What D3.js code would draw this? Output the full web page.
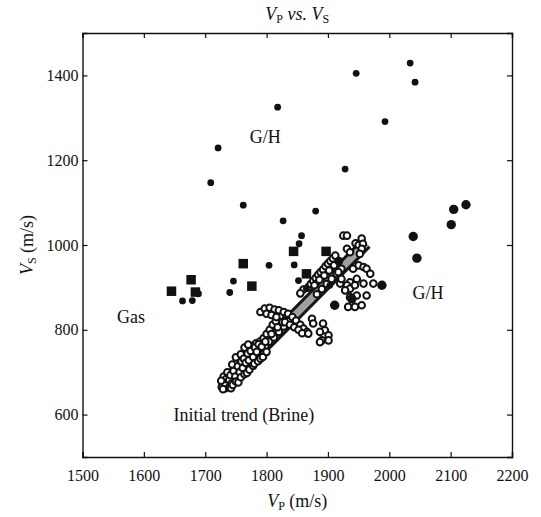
<!DOCTYPE html>
<html>
<head>
<meta charset="utf-8">
<script src="https://cdnjs.cloudflare.com/ajax/libs/d3/7.8.5/d3.min.js"></script>
<style>
  body { margin: 0; background: #fff; }
  text { font-family: 'Liberation Serif', 'DejaVu Serif', serif; fill: #111; }
</style>
</head>
<body>
<div id="chart"></div>
<script>
// tick values
var xTicks = [1500, 1600, 1700, 1800, 1900, 2000, 2100, 2200];
var yTicks = [600, 800, 1000, 1200, 1400];

// G/H : small filled dots [Vp, Vs]
var ghSmall = [
  [2034, 1429], [1946, 1405], [2042, 1384], [1818, 1325], [1993, 1291],
  [1721, 1229], [1928, 1179], [1709, 1147], [1762, 1094], [1880, 1080],
  [1827, 1057], [1857, 1022], [1853, 1003], [1845, 953], [1852, 916],
  [1804, 952], [1746, 915], [1740, 888], [1689, 885], [1663, 868], [1679, 869],
  [1917, 960], [1903, 905], [1865, 897]
];
// G/H : large filled dots
var ghLarge = [
  [2125, 1095], [2105, 1084], [2101, 1048], [2039, 1020], [2045, 969],
  [1988, 905], [1939, 873], [1911, 858]
];
// Gas : filled squares
var gasSquares = [
  [1645, 891], [1677, 918], [1684, 889], [1762, 956], [1776, 903],
  [1844, 985], [1897, 985], [1865, 932]
];
// Brine : open circles
var brineCircles = [
  // lower trend cluster
  [1728, 672], [1732, 680], [1735, 668], [1738, 690], [1740, 676], [1742, 700],
  [1745, 685], [1747, 712], [1750, 695], [1752, 722], [1755, 705], [1757, 730],
  [1760, 715], [1762, 740], [1765, 725], [1767, 748], [1770, 735], [1772, 755],
  [1775, 742], [1777, 762], [1780, 750], [1783, 768], [1786, 758], [1789, 772],
  [1730, 690], [1736, 700], [1744, 718], [1750, 735], [1758, 742], [1764, 758],
  [1770, 765], [1748, 680], [1756, 692], [1762, 702], [1768, 712], [1776, 728],
  [1782, 738], [1790, 748], [1733, 662], [1740, 667],
  [1745, 684], [1752, 695], [1766, 716], [1774, 728], [1782, 740], [1790, 752],
  [1798, 762], [1755, 688], [1765, 700], [1775, 714], [1785, 728], [1795, 742],
  [1727, 665], [1731, 674], [1734, 684], [1739, 682], [1741, 693], [1743, 673],
  [1746, 703], [1749, 690], [1753, 714], [1756, 700], [1759, 725], [1761, 710],
  [1763, 732], [1766, 722], [1769, 744], [1771, 728], [1774, 750], [1778, 736],
  [1781, 758], [1784, 748], [1787, 766], [1792, 760], [1726, 680], [1729, 660],
  // lower cluster, right side of band
  [1742, 662], [1745, 670], [1750, 678], [1754, 676], [1758, 688], [1764, 695],
  [1768, 698], [1772, 706], [1778, 715], [1780, 720], [1786, 726], [1790, 732],
  [1794, 736], [1800, 748],
  // middle of trend
  [1795, 780], [1800, 790], [1805, 800], [1810, 812], [1815, 820], [1822, 832],
  [1804, 772], [1812, 782], [1820, 795], [1828, 808], [1836, 820],
  [1798, 772], [1808, 790], [1818, 806], [1826, 818],
  [1860, 895], [1855, 886],
  // cross-wise spread
  [1790, 842], [1797, 850], [1805, 852], [1813, 848], [1820, 846], [1828, 842],
  [1835, 838], [1842, 830], [1848, 822], [1855, 812], [1860, 803], [1866, 795],
  [1800, 838], [1808, 835], [1816, 830], [1830, 818], [1838, 812], [1845, 806],
  [1852, 800], [1858, 792],
  // small cluster right of trend
  [1874, 826], [1876, 815], [1868, 791], [1892, 815], [1895, 799], [1887, 795],
  [1901, 787], [1890, 775], [1901, 775], [1887, 771],
  // upper trend
  [1868, 900], [1872, 908], [1876, 915], [1880, 922], [1884, 930], [1888, 936],
  [1892, 942], [1896, 950], [1900, 956], [1904, 962], [1908, 968], [1912, 975],
  [1878, 905], [1886, 918], [1894, 928], [1902, 940], [1910, 952], [1918, 962],
  [1882, 884], [1890, 896], [1898, 908], [1906, 920], [1914, 932], [1922, 944],
  [1945, 1004], [1950, 1000],
  // upper right cloud
  [1925, 1022], [1931, 1022], [1955, 1015], [1957, 1003], [1955, 991], [1952, 979],
  [1931, 991], [1936, 983], [1941, 944], [1950, 952], [1958, 948], [1963, 944],
  [1969, 932], [1947, 920], [1936, 912], [1931, 905], [1936, 897], [1944, 905],
  [1958, 909], [1974, 909], [1928, 893], [1936, 877], [1947, 881], [1963, 881],
  [1933, 854], [1944, 854], [1955, 858], [1920, 909], [1922, 920], [1917, 936]
];
// initial brine trend (end points)
var trendLine = [[1738, 676], [1962, 1004]];

var W = 541, H = 517;
var margin = {top: 33, right: 29, bottom: 60, left: 82.5};

var svg = d3.select("#chart").append("svg")
    .attr("width", W)
    .attr("height", H);

var x = d3.scaleLinear().domain([1500, 2200]).range([margin.left, W - margin.right]);
var y = d3.scaleLinear().domain([500, 1500]).range([H - margin.bottom, margin.top]);

// axes, ticks pointing inward
var tick = 5;
svg.append("g")
    .attr("transform", "translate(0," + y(500) + ")")
    .call(d3.axisBottom(x).tickValues(xTicks).tickSize(-tick).tickPadding(13).tickFormat(d3.format("d")));
svg.append("g")
    .attr("transform", "translate(0," + y(1500) + ")")
    .call(d3.axisTop(x).tickValues(xTicks).tickSize(-tick).tickFormat(""));
svg.append("g")
    .attr("transform", "translate(" + x(1500) + ",0)")
    .call(d3.axisLeft(y).tickValues(yTicks).tickSize(-tick).tickPadding(4).tickFormat(d3.format("d")));
svg.append("g")
    .attr("transform", "translate(" + x(2200) + ",0)")
    .call(d3.axisRight(y).tickValues(yTicks).tickSize(-tick).tickFormat(""));

svg.selectAll(".domain").attr("stroke", "#111").attr("stroke-width", 1.4);
svg.selectAll(".tick line").attr("stroke", "#111").attr("stroke-width", 1.2);
svg.selectAll(".tick text").style("font-family", "'Liberation Serif', serif").style("font-size", "16px").attr("fill", "#111");

// trend band
var line = d3.line().x(function (d) { return x(d[0]); }).y(function (d) { return y(d[1]); });
svg.append("path").datum(trendLine).attr("d", line)
    .attr("stroke", "#161616").attr("stroke-width", 13).attr("fill", "none");
svg.append("path").datum(trendLine).attr("d", line)
    .attr("stroke", "#a0a0a0").attr("stroke-width", 7).attr("fill", "none");

// open circles
svg.append("g").selectAll("circle")
    .data(brineCircles)
    .enter().append("circle")
    .attr("cx", function (d) { return x(d[0]); })
    .attr("cy", function (d) { return y(d[1]); })
    .attr("r", 3.3)
    .attr("fill", "#fff")
    .attr("stroke", "#111")
    .attr("stroke-width", 2);

// gas squares
var sq = 9.5;
svg.append("g").selectAll("rect")
    .data(gasSquares)
    .enter().append("rect")
    .attr("x", function (d) { return x(d[0]) - sq / 2; })
    .attr("y", function (d) { return y(d[1]) - sq / 2; })
    .attr("width", sq).attr("height", sq)
    .attr("fill", "#111");

// filled dots
svg.append("g").selectAll("circle")
    .data(ghSmall)
    .enter().append("circle")
    .attr("cx", function (d) { return x(d[0]); })
    .attr("cy", function (d) { return y(d[1]); })
    .attr("r", 3.4)
    .attr("fill", "#111");
svg.append("g").selectAll("circle")
    .data(ghLarge)
    .enter().append("circle")
    .attr("cx", function (d) { return x(d[0]); })
    .attr("cy", function (d) { return y(d[1]); })
    .attr("r", 4.7)
    .attr("fill", "#111");

// annotations
function note(txt, vx, vy) {
  svg.append("text").attr("x", x(vx)).attr("y", y(vy))
    .attr("text-anchor", "middle").style("font-size", "18px").text(txt);
}
note("G/H", 1798, 1240);
note("G/H", 2063, 872);
note("Gas", 1579, 815);
note("Initial trend (Brine)", 1763, 585);

// title
var t = svg.append("text").attr("x", (x(1500) + x(2200)) / 2).attr("y", 20)
    .attr("text-anchor", "middle").style("font-size", "18px");
t.append("tspan").style("font-style", "italic").text("V");
t.append("tspan").attr("dy", 3).style("font-size", "12px").text("P");
t.append("tspan").attr("dy", -3).style("font-style", "italic").text(" vs. V");
t.append("tspan").attr("dy", 3).style("font-size", "12px").text("S");

// x label
var xl = svg.append("text").attr("x", (x(1500) + x(2200)) / 2).attr("y", 507)
    .attr("text-anchor", "middle").style("font-size", "18px");
xl.append("tspan").style("font-style", "italic").text("V");
xl.append("tspan").attr("dy", 3).style("font-size", "12px").text("P");
xl.append("tspan").attr("dy", -3).text(" (m/s)");

// y label
var yl = svg.append("text")
    .attr("transform", "translate(33," + (y(1000)) + ") rotate(-90)")
    .attr("text-anchor", "middle").style("font-size", "18px");
yl.append("tspan").style("font-style", "italic").text("V");
yl.append("tspan").attr("dy", 3).style("font-size", "12px").text("S");
yl.append("tspan").attr("dy", -3).text(" (m/s)");
</script>
</body>
</html>
